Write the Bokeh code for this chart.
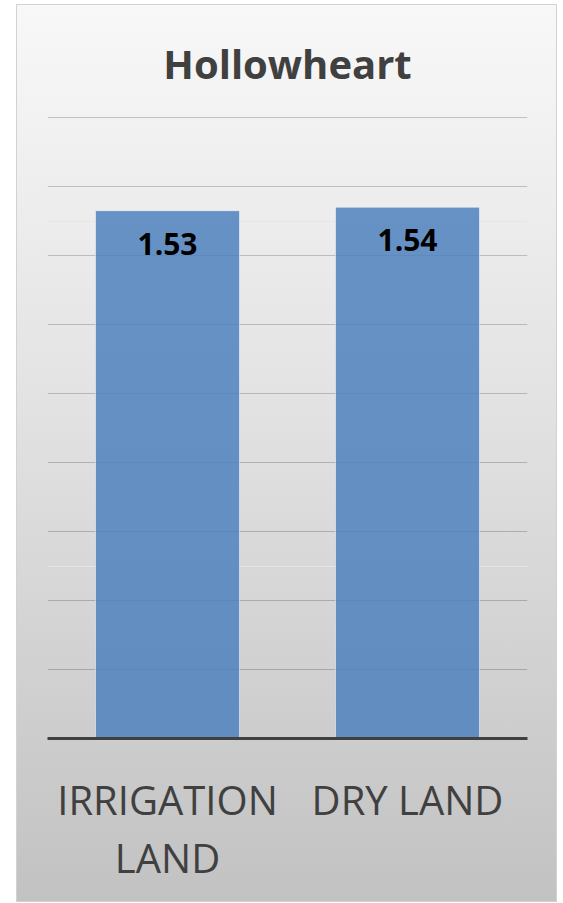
from bokeh.plotting import figure
from bokeh.models import FixedTicker, Grid, Range1d, Title
from bokeh.core.properties import value
from bokeh.embed import file_html
from bokeh.resources import INLINE

# ---- data ----
title_text = "Hollowheart"
categories = ["IRRIGATION\nLAND", "DRY LAND"]
values = [1.53, 1.54]
grid_ticks = [0.2, 0.4, 0.6, 0.8, 1.0, 1.2, 1.4, 1.6, 1.8]
value_labels = [f"{v:.2f}" for v in values]

FONT = "Open Sans"

p = figure(
    x_range=categories,
    y_range=Range1d(0, 1.803),
    width=541,
    height=898,
    output_backend="svg",
    toolbar_location=None,
    y_axis_location=None,
    min_border_left=31,
    min_border_right=30,
    min_border_top=112,
    min_border_bottom=164,
    margin=(4, 0, 0, 16),
)
p.x_range.range_padding = 0
p.styles = {
    "background": "linear-gradient(to bottom, #f8f8f8 0%, #e2e2e2 45%, #c2c2c2 100%)",
    "box-shadow": "inset 0 0 0 1px #d2d2d2",
}
p.border_fill_alpha = 0
p.background_fill_alpha = 0
p.outline_line_color = None
p.xgrid.visible = False

grid = Grid(dimension=1, ticker=FixedTicker(ticks=grid_ticks),
            grid_line_color="black", grid_line_alpha=0.2, grid_line_width=1)
p.add_layout(grid)

p.vbar(x=categories, top=values, width=0.6, bottom=0,
       fill_color="#4F81BD", fill_alpha=0.85,
       line_color="white", line_alpha=0.5, line_width=1)

p.text(x=categories, y=values, text=value_labels,
       text_font=value(FONT), text_font_style="bold", text_font_size="30px",
       text_color="black", text_align="center", text_baseline="alphabetic",
       y_offset=33)

p.title = Title(text=title_text, align="center",
                text_font=FONT, text_font_size="40px", text_font_style="bold",
                text_color="#404040", standoff=52)

ax = p.xaxis[0]
ax.axis_line_color = "#404040"
ax.axis_line_width = 3
ax.major_tick_line_color = None
ax.minor_tick_line_color = None
ax.major_label_text_font = FONT
ax.major_label_text_font_size = "40px"
ax.major_label_text_color = "#404040"
ax.major_label_text_line_height = 1.06
ax.major_label_standoff = 27
ax.major_label_orientation = "horizontal"

open("out.html", "w").write(file_html(p, INLINE))
